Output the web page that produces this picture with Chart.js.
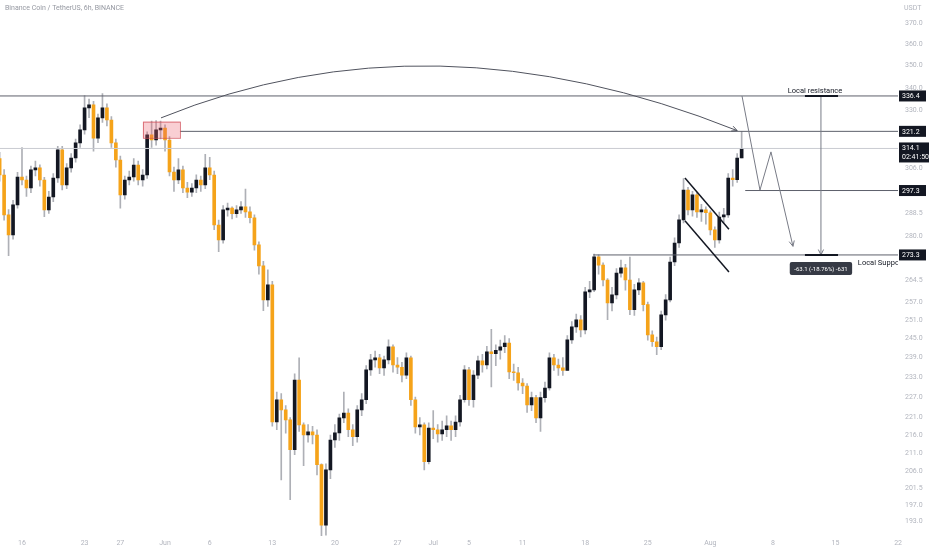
<!DOCTYPE html>
<html>
<head>
<meta charset="utf-8">
<title>BNBUSDT 6h</title>
<script src="https://cdn.jsdelivr.net/npm/chart.js@4.4.1/dist/chart.umd.min.js"></script>
<style>
  html, body { margin: 0; padding: 0; background: #fff; }
  #wrap { width: 932px; height: 550px; }
</style>
</head>
<body>
<div id="wrap"><canvas id="chart" width="932" height="550"></canvas></div>
<script>
// 12h candles, the first one opens on 13 May 12:00 (day 0 = 16 May)
const startDay = -2.5;
const stepDay = 0.5;
const firstOpen = 310.0;

const closes = [
  303.4, 288.0, 280.5, 291.8, 302.6, 301.4, 298.3, 305.4, 306.2, 301.4,
  289.9, 294.8, 302.2, 313.5, 299.5, 306.2, 310.2, 316.4, 321.8, 331.2,
  332.5, 318.4, 326.9, 331.2, 326.0, 316.4, 309.4, 295.6, 301.4, 302.6,
  307.4, 301.4, 303.4, 319.7, 317.6, 321.8, 322.6, 317.6, 304.6, 301.4,
  305.4, 298.3, 296.7, 298.3, 301.4, 299.5, 306.2, 303.4, 284.2, 278.7,
  289.9, 290.6, 288.4, 289.9, 291.0, 289.1, 286.9, 276.9, 269.4, 257.7,
  262.8, 219.7, 226.2, 223.2, 220.3, 211.9, 232.1, 218.9, 216.0, 216.9,
  216.0, 207.8, 192.0, 206.4, 214.6, 216.6, 220.9, 222.3, 217.5, 215.5,
  223.2, 226.2, 235.2, 238.3, 238.9, 235.8, 238.3, 242.4, 236.7, 236.0,
  233.6, 238.9, 226.2, 218.3, 218.9, 208.6, 218.0, 217.5, 216.3, 217.5,
  218.6, 217.5, 219.7, 226.2, 235.2, 226.2, 233.6, 238.0, 236.7, 240.8,
  240.2, 241.3, 242.4, 243.6, 234.6, 234.3, 231.2, 230.3, 224.7, 226.8,
  220.9, 226.8, 229.7, 238.9, 236.7, 235.8, 235.0, 244.6, 248.8, 251.1,
  247.8, 260.4, 261.1, 272.6, 269.7, 264.5, 256.7, 259.4, 266.9, 268.7,
  264.5, 254.4, 261.1, 263.5, 256.1, 246.2, 244.0, 242.4, 252.7, 257.7,
  270.8, 277.6, 286.1, 297.5, 289.9, 295.6, 289.1, 289.9, 288.8, 282.4,
  278.7, 287.2, 288.0, 302.2, 301.5, 310.2, 314.1
];
const highs = [
  312.5, 305.5, 290.0, 293.5, 304.5, 314.5, 303.0, 307.0, 309.0, 307.5,
  302.5, 297.0, 304.0, 315.0, 315.0, 308.0, 312.0, 318.0, 324.0, 336.6,
  335.0, 334.0, 328.5, 337.4, 333.0, 327.5, 318.0, 311.0, 303.0, 305.0,
  310.0, 309.0, 305.5, 321.0, 325.5, 325.8, 325.5, 324.0, 319.0, 306.5,
  310.0, 307.0, 300.5, 300.0, 303.5, 303.0, 311.7, 310.5, 305.0, 286.0,
  291.5, 292.5, 291.0, 291.5, 293.0, 297.9, 291.0, 288.0, 278.0, 271.0,
  268.0, 264.0, 228.5, 228.0, 224.5, 221.0, 234.0, 238.9, 219.5, 219.0,
  218.5, 217.5, 208.0, 208.0, 216.0, 219.0, 222.0, 228.5, 223.5, 219.0,
  224.5, 228.0, 236.5, 240.0, 241.0, 240.0, 239.5, 244.6, 243.0, 239.0,
  237.5, 240.5, 239.5, 227.0, 221.0, 219.5, 219.5, 223.0, 219.0, 220.0,
  221.5, 220.0, 221.5, 227.5, 236.5, 236.0, 235.0, 239.5, 240.0, 242.5,
  248.0, 243.0, 244.5, 246.0, 245.0, 237.0, 236.0, 232.5, 231.0, 228.5,
  227.5, 228.5, 231.5, 240.5, 240.0, 238.5, 239.0, 246.0, 250.5, 253.0,
  252.5, 262.0, 264.0, 273.6, 273.3, 270.5, 265.0, 262.0, 268.5, 271.5,
  270.0, 272.5, 263.0, 265.0, 264.0, 257.0, 247.5, 245.5, 254.0, 259.5,
  272.5, 279.5, 288.0, 302.0, 298.5, 297.0, 296.5, 292.0, 291.0, 289.5,
  283.5, 289.0, 290.5, 304.0, 305.5, 312.0, 321.2
];
const lows = [
  301.0, 286.0, 273.0, 279.0, 290.5, 299.5, 295.0, 296.5, 303.0, 299.0,
  287.3, 288.5, 293.0, 300.5, 297.5, 298.0, 304.5, 308.5, 314.5, 320.0,
  327.0, 313.0, 316.5, 325.0, 323.5, 314.5, 306.5, 290.5, 294.0, 299.5,
  301.0, 299.5, 299.0, 302.0, 314.5, 315.5, 318.0, 313.0, 303.0, 297.0,
  300.0, 296.5, 294.5, 295.0, 296.5, 297.0, 298.0, 301.5, 282.5, 274.5,
  277.5, 287.5, 286.5, 287.0, 288.5, 287.0, 285.0, 275.0, 266.5, 254.1,
  255.5, 218.5, 217.5, 203.7, 216.5, 198.5, 210.5, 217.0, 207.5, 214.0,
  213.5, 205.0, 188.7, 189.5, 204.0, 212.5, 214.5, 219.5, 215.5, 213.0,
  214.0, 221.5, 225.0, 233.5, 236.0, 234.0, 233.5, 237.0, 234.5, 234.0,
  231.5, 232.5, 224.5, 216.5, 216.0, 206.4, 208.0, 215.0, 214.0, 214.5,
  215.5, 214.5, 215.5, 218.5, 225.5, 224.5, 224.0, 232.5, 234.5, 235.5,
  230.0, 236.5, 238.5, 240.5, 232.5, 232.0, 229.0, 228.0, 222.5, 223.0,
  219.5, 217.0, 225.5, 229.0, 235.0, 233.5, 233.5, 235.0, 243.5, 247.0,
  245.5, 246.5, 258.5, 260.5, 266.5, 262.5, 251.1, 254.0, 258.0, 265.5,
  261.0, 252.8, 252.5, 259.5, 254.0, 244.5, 242.5, 239.9, 241.5, 251.0,
  257.0, 269.5, 276.0, 285.0, 288.0, 287.5, 287.0, 285.5, 284.5, 280.5,
  276.0, 277.5, 285.0, 287.0, 299.0, 300.5, 312.5
];

// axis ticks
const priceTicks = [370.0, 360.0, 350.0, 340.0, 330.0, 306.0, 288.5, 280.0, 264.5, 257.0,
  251.0, 245.0, 239.0, 233.0, 227.0, 221.0, 216.0, 211.0, 206.0, 201.5, 197.0, 193.0];
const dateTicks = [0, 7, 11, 16, 21, 28, 35, 42, 46, 50, 56, 63, 70, 77, 84, 91, 98];
const dateLabels = ['16', '23', '27', 'Jun', '6', '13', '20', '27', 'Jul', '5', '11', '18', '25', 'Aug', '8', '15', '22'];

// marked price levels
const levels = [336.4, 321.2, 297.3, 273.3];
const lastPrice = 314.1;
const countdown = '02:41:50';
const measureText = '-63.1 (-18.76%) -631';

// candles
const days = closes.map((c, i) => startDay + i * stepDay);
const opens = closes.map((c, i) => i === 0 ? firstOpen : closes[i - 1]);
const bodies = closes.map((c, i) => ({ x: days[i], y: [opens[i], c] }));
const wicks = closes.map((c, i) => ({
  x: days[i],
  y: [Math.min(lows[i], opens[i], c), Math.max(highs[i], opens[i], c)]
}));
const bodyColors = closes.map((c, i) => c >= opens[i] ? '#131722' : '#f5a31a');

const FONT = 'Roboto, "Noto Sans", sans-serif';
const AXIS_GREY = '#b2b5be';

// TradingView drawings (day, price)
const drawings = {
  id: 'drawings',
  afterDatasetsDraw(chart) {
    const { ctx, chartArea: a, scales: { x, y } } = chart;
    const px = d => x.getPixelForValue(d);
    const py = p => y.getPixelForValue(p);

    const line = (x1, y1, x2, y2, color, w) => {
      ctx.beginPath();
      ctx.moveTo(x1, y1);
      ctx.lineTo(x2, y2);
      ctx.strokeStyle = color;
      ctx.lineWidth = w;
      ctx.stroke();
    };
    const arrowHead = (xEnd, yEnd, ang, color) => {
      const L = 6;
      line(xEnd, yEnd, xEnd - L * Math.cos(ang - 0.45), yEnd - L * Math.sin(ang - 0.45), color, 1);
      line(xEnd, yEnd, xEnd - L * Math.cos(ang + 0.45), yEnd - L * Math.sin(ang + 0.45), color, 1);
    };

    ctx.save();
    ctx.beginPath();
    ctx.rect(a.left, a.top - 4, a.right - a.left, a.bottom - a.top + 4);
    ctx.clip();

    // current price line
    line(a.left, py(lastPrice), a.right, py(lastPrice), '#c9cbd1', 1);

    // horizontal levels
    line(a.left, py(levels[0]), a.right, py(levels[0]), '#5d606b', 1);
    line(px(17.67), py(levels[1]), a.right, py(levels[1]), '#5d606b', 1);
    line(px(80.9), py(levels[2]), a.right, py(levels[2]), '#5d606b', 1);
    line(px(63.9), py(levels[3]), a.right, py(levels[3]), '#5d606b', 1);

    // marked range box
    const bx1 = px(13.53), bx2 = px(17.67), by1 = py(325.3), by2 = py(318.5);
    ctx.fillStyle = 'rgba(236, 96, 108, 0.3)';
    ctx.fillRect(bx1, by1, bx2 - bx1, by2 - by1);
    ctx.strokeStyle = 'rgba(210, 80, 90, 0.75)';
    ctx.lineWidth = 1;
    ctx.strokeRect(bx1 + 0.5, by1 + 0.5, bx2 - bx1, by2 - by1);

    // big arc
    const s = [px(15.55), py(326.9)], c = [px(45.75), py(377.4)], e = [px(80.0), py(321.5)];
    ctx.beginPath();
    ctx.moveTo(s[0], s[1]);
    ctx.quadraticCurveTo(c[0], c[1], e[0], e[1]);
    ctx.strokeStyle = '#50535e';
    ctx.lineWidth = 1;
    ctx.stroke();
    arrowHead(e[0], e[1], Math.atan2(e[1] - c[1], e[0] - c[0]), '#50535e');

    // projected path
    const path = [[80.54, 336.4], [82.55, 297.5], [83.78, 312.7], [86.24, 276.4]].map(p => [px(p[0]), py(p[1])]);
    ctx.beginPath();
    path.forEach((p, i) => i ? ctx.lineTo(p[0], p[1]) : ctx.moveTo(p[0], p[1]));
    ctx.strokeStyle = '#787b86';
    ctx.lineWidth = 1;
    ctx.stroke();
    const pl = path[path.length - 1], pp = path[path.length - 2];
    arrowHead(pl[0], pl[1], Math.atan2(pl[1] - pp[1], pl[0] - pp[0]), '#787b86');

    // flag channel
    line(px(74.16), py(302.2), px(79.08), py(282.6), '#131722', 1.5);
    line(px(74.16), py(285.8), px(79.08), py(267.3), '#131722', 1.5);

    // measure
    const mx = px(89.37), mTop = py(levels[0]), mBot = py(levels[3]);
    line(mx, mTop, mx, mBot, '#787b86', 1);
    arrowHead(mx, mBot, Math.PI / 2, '#787b86');
    line(px(87.58), mTop, px(91.28), mTop, '#131722', 2);
    line(px(87.58), mBot, px(91.28), mBot, '#131722', 2);

    ctx.font = '7.5px ' + FONT;
    ctx.fillStyle = '#131722';
    ctx.textAlign = 'center';
    ctx.textBaseline = 'alphabetic';
    ctx.fillText('Local resistance', px(88.7), mTop - 3);
    ctx.textAlign = 'left';
    ctx.textBaseline = 'middle';
    ctx.fillText('Local Support', px(93.5), py(270.5));

    // measure label
    ctx.font = '6px ' + FONT;
    const tw = ctx.measureText(measureText).width + 9;
    const ly = py(268.5);
    ctx.fillStyle = '#363a45';
    ctx.beginPath();
    ctx.roundRect(mx - tw / 2, ly - 6.5, tw, 13, 2);
    ctx.fill();
    ctx.fillStyle = '#ffffff';
    ctx.textAlign = 'center';
    ctx.fillText(measureText, mx, ly + 0.5);

    ctx.restore();
  },
  afterDraw(chart) {
    const { ctx, chartArea: a, scales: { y } } = chart;
    ctx.save();
    // title and currency
    ctx.font = '7px ' + FONT;
    ctx.fillStyle = '#9598a1';
    ctx.textBaseline = 'middle';
    ctx.textAlign = 'left';
    ctx.fillText('Binance Coin / TetherUS, 6h, BINANCE', 5, 8);
    ctx.fillStyle = AXIS_GREY;
    ctx.fillText('USDT', 904, 8);

    // price tags
    const bx = a.right + 1, bw = 27;
    levels.forEach(v => {
      const yy = y.getPixelForValue(v);
      ctx.fillStyle = '#131722';
      ctx.fillRect(bx, yy - 5.5, bw, 11);
      ctx.fillStyle = '#ffffff';
      ctx.font = '7px ' + FONT;
      ctx.fillText(v.toFixed(1), bx + 3, yy + 0.5);
    });
    const yl = y.getPixelForValue(lastPrice);
    ctx.fillStyle = '#131722';
    ctx.fillRect(bx, yl - 6, bw + 3, 20);
    ctx.fillStyle = '#ffffff';
    ctx.fillText(lastPrice.toFixed(1), bx + 3, yl);
    ctx.fillText(countdown, bx + 3, yl + 9);
    ctx.restore();
  }
};

new Chart(document.getElementById('chart'), {
  type: 'bar',
  data: {
    datasets: [
      { data: wicks, backgroundColor: '#aeb0b6', barThickness: 1, grouped: false, order: 2 },
      { data: bodies, backgroundColor: bodyColors, barThickness: 3, minBarLength: 1, grouped: false, order: 1 }
    ]
  },
  options: {
    responsive: false,
    animation: false,
    layout: { padding: 0 },
    plugins: { legend: { display: false }, tooltip: { enabled: false } },
    scales: {
      x: {
        type: 'linear',
        min: -2.46,
        max: 97.99,
        offset: false,
        grid: { display: false, drawTicks: false },
        border: { display: false },
        afterBuildTicks: s => { s.ticks = dateTicks.map(v => ({ value: v })); },
        afterFit: s => { s.height = 14; },
        ticks: {
          autoSkip: false,
          maxRotation: 0,
          padding: 3,
          color: AXIS_GREY,
          font: { size: 7, family: FONT },
          callback: v => dateLabels[dateTicks.indexOf(v)]
        }
      },
      y: {
        type: 'logarithmic',
        position: 'right',
        min: 189.3,
        max: 379.6,
        grid: { display: false, drawTicks: true, tickLength: 7 },
        border: { display: false },
        afterBuildTicks: s => { s.ticks = priceTicks.map(v => ({ value: v })); },
        afterFit: s => { s.width = 34; },
        ticks: {
          autoSkip: false,
          padding: 0,
          color: AXIS_GREY,
          font: { size: 7, family: FONT, lineHeight: 1 },
          callback: v => Number(v).toFixed(1)
        }
      }
    }
  },
  plugins: [drawings]
});
</script>
</body>
</html>
